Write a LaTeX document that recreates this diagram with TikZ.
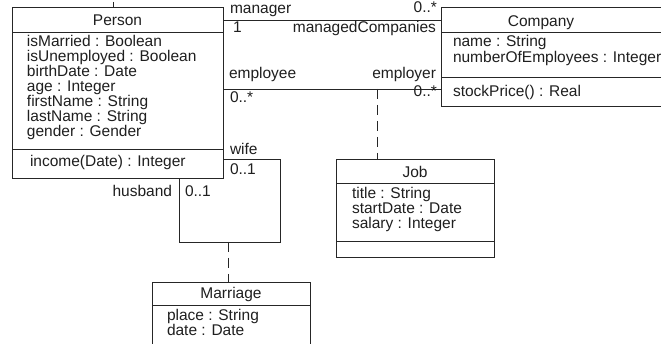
\documentclass[tikz,border=0pt]{standalone}
\usepackage{fontspec}
\setmainfont{Liberation Sans}
\begin{document}
\begin{tikzpicture}[x=1pt,y=-1pt,
  line width=0.8pt,
  every node/.style={inner sep=0pt,outer sep=0pt,text=black!88},
  font=\fontsize{15.5}{15.5}\selectfont,
  cls/.style={draw=black!85,rectangle,line width=0.8pt},
  sep/.style={draw=black!85,line width=0.8pt},
  assoc/.style={draw=black!85,line width=0.8pt},
  dep/.style={draw=black!85,line width=0.8pt,dash pattern=on 10pt off 6pt},
  txt/.style={anchor=base west},
  ttl/.style={anchor=base},
  rlab/.style={anchor=base east}]
\useasboundingbox (0,0) rectangle (661,344);
\fill[white] (0,0) rectangle (661,344);
\clip (0,0) rectangle (661,344);

% class boxes
\node[cls,minimum width=211pt,minimum height=171pt] (person) at (117.5,92.5) {};
\node[cls,minimum width=249pt,minimum height=99pt] (company) at (565.5,56.5) {};
\node[cls,minimum width=158pt,minimum height=98pt] (job) at (415,208) {};
\node[cls,minimum width=158pt,minimum height=80pt] (marriage) at (231,322) {};

% separators
\draw[sep] (person.west |- 0,32) -- (person.east |- 0,32);
\draw[sep] (person.west |- 0,149) -- (person.east |- 0,149);
\draw[sep] (company.west |- 0,32) -- (company.east |- 0,32);
\draw[sep] (company.west |- 0,77) -- (company.east |- 0,77);
\draw[sep] (job.west |- 0,183) -- (job.east |- 0,183);
\draw[sep] (job.west |- 0,241) -- (job.east |- 0,241);
\draw[sep] (marriage.west |- 0,305) -- (marriage.east |- 0,305);

% Person texts
\node[ttl] (tperson) at (117.5,26) {Person};
\node[txt] (p1) at (27,47) {isMarried : Boolean};
\node[txt] (p2) at (27,62) {isUnemployed : Boolean};
\node[txt] (p3) at (27,77) {birthDate : Date};
\node[txt] (p4) at (27,92) {age : Integer};
\node[txt] (p5) at (27,107) {firstName : String};
\node[txt] (p6) at (27,122) {lastName : String};
\node[txt] (p7) at (27,137) {gender : Gender};
\node[txt] (p8) at (30,167) {income(Date) : Integer};

% Company texts
\node[ttl] (tcompany) at (541,27) {Company};
\node[txt] (c1) at (453,47) {name : String};
\node[txt] (c2) at (453,63) {numberOfEmployees : Integer};
\node[txt] (c3) at (453,97) {stockPrice() : Real};

% Job texts
\node[ttl] (tjob) at (415,178) {Job};
\node[txt] (j1) at (352,199) {title : String};
\node[txt] (j2) at (352,214) {startDate : Date};
\node[txt] (j3) at (352,229) {salary : Integer};

% Marriage texts
\node[ttl] (tmarriage) at (231,299) {Marriage};
\node[txt] (m1) at (167,321) {place : String};
\node[txt] (m2) at (167,336) {date : Date};

% associations
\draw[assoc] (person.east |- 0,20) -- (company.west |- 0,20);
\draw[assoc] (person.east |- 0,89) -- (company.west |- 0,89);
\coordinate (wr) at (280,242);
\coordinate (wl) at (179,242);
\draw[assoc] (person.east |- 0,159) -| (wr) -- (wl) -- (wl |- person.south);
\coordinate (jtop) at (377,89);
\draw[dep] (jtop) -- (jtop |- job.north);
\coordinate (mtop) at (228,242);
\draw[dep] (mtop) -- (mtop |- marriage.north);
\coordinate (tick) at (113,2);
\draw[assoc] (tick) -- (tick |- person.north);

% association labels
\node[txt] (lmanager) at (230,14) {manager};
\node[rlab] (lm1) at (437,13) {0..*};
\node[txt] (lone) at (233,33) {1};
\node[rlab] (lmc) at (436,33) {managedCompanies};
\node[txt] (lemployee) at (229,79) {employee};
\node[rlab] (lemployer) at (436,79) {employer};
\node[txt] (le1) at (230,103) {0..*};
\node[rlab] (le2) at (437,97) {0..*};
\node[txt] (lwife) at (230,155) {wife};
\node[txt] (lw1) at (230,175) {0..1};
\node[rlab] (lhusband) at (172,197) {husband};
\node[txt] (lh1) at (185,197) {0..1};
\end{tikzpicture}
\end{document}
